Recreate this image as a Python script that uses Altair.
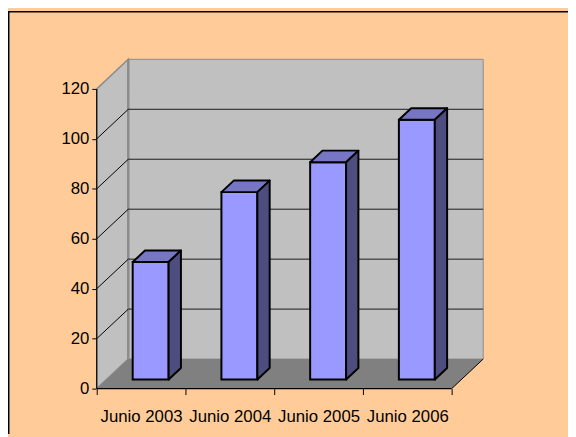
import json
import altair as alt
import pandas as pd

# ---- data ----
categories = ["Junio 2003", "Junio 2004", "Junio 2005", "Junio 2006"]
values = [47, 75, 87, 104]
y_ticks = [0, 20, 40, 60, 80, 100, 120]
grid_values = [20, 40, 60, 80, 100]

# ---- 3D geometry (in data units) ----
N = len(categories)
YMAX = 120
DX = 0.3556      # wall depth along x (category units)
DY = 11.84       # wall depth along y (value units)
T1, T2 = 0.31, 0.70   # bar front/back depth fraction
BAR_L, BAR_W = 0.295, 0.405

PLOT_W, PLOT_H = 392, 334
PAD = {"left": 90, "top": 49, "right": 86, "bottom": 46}
FONT = "Liberation Sans"

xs = alt.Scale(domain=[0, N + DX], nice=False, zero=False)
ys = alt.Scale(domain=[0, YMAX + DY], nice=False, zero=False)

label_expr = ("(datum.value % 1 == 0.5) ? " + json.dumps(categories) +
              "[floor(datum.value)] : ''")
x_axis = alt.Axis(
    values=[k / 2 for k in range(2 * N + 1)], labelExpr=label_expr,
    tickOpacity={"condition": {"test": "datum.value % 1 == 0", "value": 1}, "value": 0},
    domain=False, grid=False, tickColor="black", tickSize=6, tickWidth=1,
    labelFont=FONT, labelFontSize=17, labelColor="black", labelPadding=14,
    labelAngle=0, labelFlush=False, labelOverlap=False, labelBound=False,
    orient="bottom", title=None)
y_axis = alt.Axis(
    values=y_ticks, domain=False, grid=False, tickColor="black", tickSize=5,
    tickWidth=1, labelFont=FONT, labelFontSize=17, labelColor="black",
    labelPadding=3, labelFlush=False, labelOverlap=False, orient="left", title=None)


def qx(f):
    return alt.X(f"{f}:Q", scale=xs, axis=x_axis, title=None)


def qy(f):
    return alt.Y(f"{f}:Q", scale=ys, axis=y_axis, title=None, stack=None)


# back wall
back_df = pd.DataFrame({"x": [DX], "x2": [N + DX], "y": [DY], "y2": [YMAX + DY]})
back = alt.Chart(back_df).mark_rect(fill="#C0C0C0", stroke="#8C8C8C", strokeWidth=1).encode(
    x=qx("x"), x2="x2", y=qy("y"), y2="y2")

# left wall
left_df = pd.DataFrame({"x": [0, DX], "y": [0, DY], "y2": [YMAX, YMAX + DY]})
left = alt.Chart(left_df).mark_area(fill="#C0C0C0", stroke="#8C8C8C", strokeWidth=1.5).encode(
    x=qx("x"), y=qy("y"), y2="y2")

# floor
floor_df = pd.DataFrame({"y": [0, DY], "x": [0, DX], "x2": [N, N + DX]})
floor = alt.Chart(floor_df).mark_area(orient="horizontal", fill="#808080").encode(
    y=qy("y"), x=qx("x"), x2="x2")

# back-left vertical edge
edge_df = pd.DataFrame({"x": [DX], "y": [DY], "y2": [YMAX + DY]})
edge = alt.Chart(edge_df).mark_rule(color="#8C8C8C", strokeWidth=2.5).encode(
    x=qx("x"), y=qy("y"), y2="y2")

# gridlines on back wall
bg_df = pd.DataFrame({"x": [DX] * len(grid_values), "x2": [N + DX] * len(grid_values),
                      "y": [v + DY for v in grid_values]})
back_grid = alt.Chart(bg_df).mark_rule(color="#1a1a1a", strokeWidth=1).encode(
    x=qx("x"), x2="x2", y=qy("y"))

# gridlines on left wall
lg_rows = []
for v in grid_values:
    lg_rows.append({"g": v, "x": 0, "y": v})
    lg_rows.append({"g": v, "x": DX, "y": v + DY})
left_grid = alt.Chart(pd.DataFrame(lg_rows)).mark_line(color="#000000", strokeWidth=1).encode(
    x=qx("x"), y=qy("y"), detail="g:N")

# floor right edge
fe_df = pd.DataFrame({"x": [N, N + DX], "y": [0, DY]})
floor_edge = alt.Chart(fe_df).mark_line(color="#000000", strokeWidth=1).encode(
    x=qx("x"), y=qy("y"))

# front axis lines
ya_df = pd.DataFrame({"x": [0.0], "y": [0.0], "y2": [float(YMAX)]})
y_line = alt.Chart(ya_df).mark_rule(color="black", strokeWidth=1.2).encode(
    x=qx("x"), y=qy("y"), y2="y2")
xa_df = pd.DataFrame({"x": [0.0], "x2": [float(N)], "y": [0.0]})
x_line = alt.Chart(xa_df).mark_rule(color="black", strokeWidth=1.2).encode(
    x=qx("x"), x2="x2", y=qy("y"))

# bars
dd = (T2 - T1) * DX
front_rows, top_rows, side_rows = [], [], []
for i, v in enumerate(values):
    xl = i + BAR_L + T1 * DX
    xr = xl + BAR_W
    front_rows.append({"bar": i, "x": xl, "x2": xr, "y": T1 * DY, "y2": T1 * DY + v})
    top_rows.append({"bar": i, "y": v + T1 * DY, "x": xl, "x2": xr})
    top_rows.append({"bar": i, "y": v + T2 * DY, "x": xl + dd, "x2": xr + dd})
    side_rows.append({"bar": i, "x": xr, "y": T1 * DY, "y2": T1 * DY + v})
    side_rows.append({"bar": i, "x": xr + dd, "y": T2 * DY, "y2": T2 * DY + v})

bar_front = alt.Chart(pd.DataFrame(front_rows)).mark_rect(
    fill="#9999FF", stroke="black", strokeWidth=2).encode(
    x=qx("x"), x2="x2", y=qy("y"), y2="y2")
bar_top = alt.Chart(pd.DataFrame(top_rows)).mark_area(
    orient="horizontal", fill="#7676C4", stroke="black", strokeWidth=2, strokeJoin="round").encode(
    y=qy("y"), x=qx("x"), x2="x2", detail="bar:N")
bar_side = alt.Chart(pd.DataFrame(side_rows)).mark_area(
    fill="#4D4D80", stroke="black", strokeWidth=2, strokeJoin="round").encode(
    x=qx("x"), y=qy("y"), y2="y2", detail="bar:N")

# chart frame (left and top border)
dummy = pd.DataFrame({"a": [0]})
frame_left = alt.Chart(dummy).mark_rule(color="black", strokeWidth=1.5).encode(
    x=alt.value(-PAD["left"] + 0.75), y=alt.value(-PAD["top"]),
    y2=alt.value(PLOT_H + PAD["bottom"]))
frame_top = alt.Chart(dummy).mark_rule(color="black", strokeWidth=1.5).encode(
    x=alt.value(-PAD["left"]), x2=alt.value(PLOT_W + PAD["right"]),
    y=alt.value(-PAD["top"] + 0.75))

chart = alt.layer(
    back, left, floor, edge, back_grid, left_grid, floor_edge, y_line, x_line,
    bar_front, bar_top, bar_side, frame_left, frame_top
).properties(
    width=PLOT_W, height=PLOT_H, background="#FFCC99", padding=PAD,
    autosize=alt.AutoSizeParams(type="none")
).configure_view(stroke=None)

chart.save("out.html", embed_options={"renderer": "svg", "actions": False})
